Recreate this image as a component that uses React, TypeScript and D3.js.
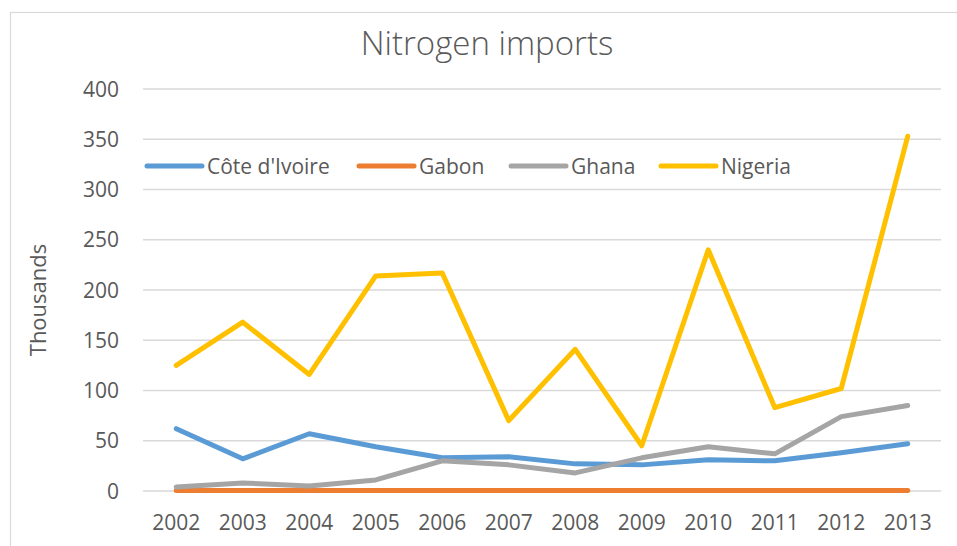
import React from "react";
import * as d3 from "d3";

const years = ["2002","2003","2004","2005","2006","2007","2008","2009","2010","2011","2012","2013"];
const coteDIvoire = [62, 32, 57, 44, 33, 34, 27, 26, 31, 30, 38, 47];
const gabon = [0.6, 0.6, 0.6, 0.6, 0.6, 0.6, 0.6, 0.6, 0.5, 0.6, 0.6, 0.6];
const ghana = [4, 8, 5, 11, 30, 26, 18, 33, 44, 37, 74, 85];
const nigeria = [125, 168, 116, 214, 217, 70, 141, 45, 240, 83, 102, 353];
const yTicks = [0, 50, 100, 150, 200, 250, 300, 350, 400];
const seriesNames = ["Côte d'Ivoire", "Gabon", "Ghana", "Nigeria"];
const seriesColors = ["#5B9BD5", "#ED7D31", "#A5A5A5", "#FFC000"];
const seriesValues = [coteDIvoire, gabon, ghana, nigeria];

const W = 957;
const H = 546;
const FONT = "'Open Sans', sans-serif";
const TEXT = "#595959";

export default function App() {
  const x = d3.scalePoint<string>().domain(years).range([143, 941]).padding(0.5);
  const y = d3.scaleLinear().domain([0, 400]).range([491, 89]);
  const line = d3
    .line<number>()
    .x((_, i) => x(years[i]) as number)
    .y((d) => y(d));

  const legendX = [147, 359, 511, 661];
  const legendY = 166;

  return (
    <div style={{ position: "fixed", left: 0, top: 0 }}>
      <svg width={W} height={H} style={{ display: "block" }}>
        <rect x={0} y={0} width={W} height={H} fill="#fff" />
        <rect x={10.5} y={12.5} width={952} height={560} fill="#fff" stroke="#D9D9D9" strokeWidth={1.2} />
        <text x={487} y={55} textAnchor="middle" fontFamily={FONT} fontSize={33} fill={TEXT} fontWeight={300}>
          Nitrogen imports
        </text>
        {yTicks.map((t) => (
          <g key={t}>
            <line x1={143} x2={941} y1={y(t)} y2={y(t)} stroke="#D9D9D9" strokeWidth={1.5} />
            <text x={119} y={y(t)} dy="0.36em" textAnchor="end" fontFamily={FONT} fontSize={21} fill={TEXT}>
              {t}
            </text>
          </g>
        ))}
        {years.map((yr) => (
          <text key={yr} x={x(yr)} y={530} textAnchor="middle" fontFamily={FONT} fontSize={21} fill={TEXT}>
            {yr}
          </text>
        ))}
        <text
          transform="translate(46,300) rotate(-90)"
          textAnchor="middle"
          fontFamily={FONT}
          fontSize={22}
          fill={TEXT}
        >
          Thousands
        </text>
        {seriesValues.map((vals, i) => (
          <path
            key={seriesNames[i]}
            d={line(vals) || ""}
            fill="none"
            stroke={seriesColors[i]}
            strokeWidth={5}
            strokeLinejoin="round"
            strokeLinecap="round"
          />
        ))}
        {seriesNames.map((name, i) => (
          <g key={name}>
            <line
              x1={legendX[i]}
              x2={legendX[i] + 55}
              y1={legendY}
              y2={legendY}
              stroke={seriesColors[i]}
              strokeWidth={5}
              strokeLinecap="round"
            />
            <text x={legendX[i] + 60} y={legendY} dy="0.36em" fontFamily={FONT} fontSize={21} fill={TEXT}>
              {name}
            </text>
          </g>
        ))}
      </svg>
    </div>
  );
}
